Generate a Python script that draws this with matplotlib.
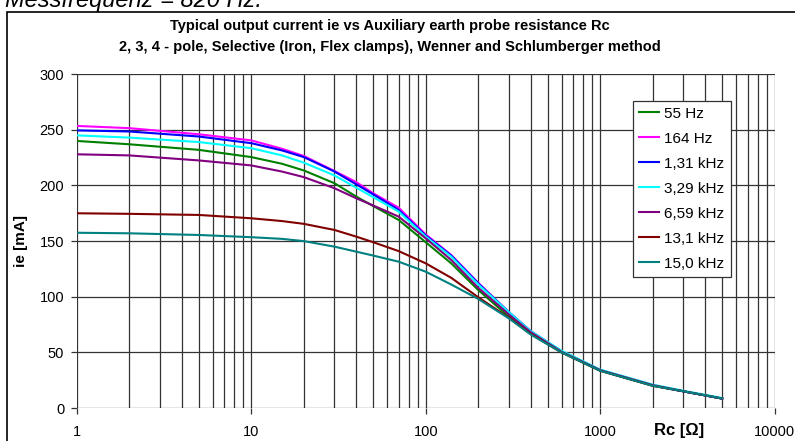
import numpy as np
import matplotlib
matplotlib.use("Agg")
import matplotlib.pyplot as plt
from matplotlib.patches import Rectangle
from matplotlib.ticker import LogLocator, NullFormatter, FixedLocator

plt.rcParams["font.family"] = ["Liberation Sans", "DejaVu Sans"]

# Rc [ohm] sample points and ie [mA] per test frequency
rc = [1, 2, 5, 10, 15, 20, 30, 40, 50, 70, 100, 140, 200, 300, 400, 600, 1000, 2000, 3000, 5000]
ie_55 = [240, 237, 232, 225.5, 219.5, 213.5, 202, 190, 181.5, 169, 149, 130, 106, 82, 67, 50, 33.5, 20, 15, 8.5]
ie_164 = [253.5, 251.5, 246, 240.5, 233, 226.5, 213, 203, 193, 180, 156, 137.5, 112.5, 86, 69, 51, 34, 20.5, 15, 8.5]
ie_1k31 = [249.5, 248.5, 244, 238, 231.5, 225.5, 212.5, 201, 192, 178, 155, 137, 112, 86, 69, 51, 34, 20.5, 15, 8.5]
ie_3k29 = [245, 243, 239, 233.5, 227, 220.5, 209, 198, 189.5, 176.5, 154, 136, 111, 86, 69, 51.5, 34.5, 21, 15.5, 9]
ie_6k59 = [228, 227, 222.5, 218, 212.5, 207.5, 197.5, 188.5, 182, 172, 152.5, 133, 108, 84, 68, 50.5, 34, 20.5, 15, 8.5]
ie_13k1 = [175, 174.5, 173.5, 170.5, 168, 165.5, 160, 154, 149, 141, 130, 117, 99.5, 81, 66.5, 50, 33.5, 20, 15, 8.5]
ie_15k0 = [157.5, 157, 155.5, 153.5, 152, 150, 145, 140.5, 137, 131.5, 122.5, 111, 98, 80.5, 66, 50, 33.5, 20, 15, 8.5]

series = [
    ("55 Hz", ie_55, "#008000"),
    ("164 Hz", ie_164, "#FF00FF"),
    ("1,31 kHz", ie_1k31, "#0000FF"),
    ("3,29 kHz", ie_3k29, "#00FFFF"),
    ("6,59 kHz", ie_6k59, "#800080"),
    ("13,1 kHz", ie_13k1, "#800000"),
    ("15,0 kHz", ie_15k0, "#008080"),
]

fig = plt.figure(figsize=(7.95, 4.41), dpi=100)
ax = fig.add_axes([0.0965, 0.0748, 0.878, 0.757])

for lab, y, col in series:
    ax.plot(rc, y, color=col, lw=1.5, label=lab, zorder=3)

ax.set_xscale("log")
ax.set_xlim(1, 10000)
ax.set_ylim(0, 300)
ax.set_yticks(range(0, 301, 50))
ax.xaxis.set_major_locator(FixedLocator([1, 10, 100, 1000, 10000]))
ax.xaxis.set_minor_locator(LogLocator(base=10, subs=np.arange(2, 10)))
ax.xaxis.set_minor_formatter(NullFormatter())
ax.set_xticklabels(["1", "10", "100", "1000", "10000"])

ax.grid(True, which="major", axis="both", color="0.2", lw=0.9)
ax.grid(True, which="minor", axis="x", color="0.2", lw=0.9)
for s in ax.spines.values():
    s.set_visible(False)
ax.tick_params(axis="both", which="major", direction="out", length=4, width=0.9,
               color="0.2", labelsize=10.5, pad=5)
ax.tick_params(axis="x", which="minor", length=0)
ax.tick_params(axis="x", which="major", pad=8)

ax.set_ylabel("ie [mA]", fontsize=11, fontweight="bold", labelpad=8)
fig.text(679 / 795, 1 - 431 / 441, "Rc [Ω]", fontsize=12, fontweight="bold",
         ha="center", va="center")

leg = ax.legend(loc="upper left", bbox_to_anchor=(0.797, 0.921), fontsize=11,
                frameon=True, fancybox=False, framealpha=1, edgecolor="0.2",
                handlelength=1.3, handletextpad=0.35, labelspacing=0.72,
                borderpad=0.4, borderaxespad=0)
leg.get_frame().set_linewidth(0.9)
leg.set_zorder(5)

fig.text(0.49, 1 - 26 / 441, "Typical output current ie vs Auxiliary earth probe resistance Rc",
         fontsize=10.5, fontweight="bold", ha="center", va="center")
fig.text(0.49, 1 - 47 / 441, "2, 3, 4 - pole, Selective (Iron, Flex clamps), Wenner and Schlumberger method",
         fontsize=10.5, fontweight="bold", ha="center", va="center")

# caption of the page, cut off above the chart frame as in the source
fig.text(262 / 795, 1 - 1 / 441, "Messfrequenz = 820 Hz.", fontsize=17, style="italic",
         ha="right", va="center")

fig.add_artist(Rectangle((7 / 795, -0.1), 1.0, 1.1 - 12 / 441, transform=fig.transFigure,
                         fill=False, edgecolor="black", lw=1.2))

fig.savefig("out.png", dpi=100)
